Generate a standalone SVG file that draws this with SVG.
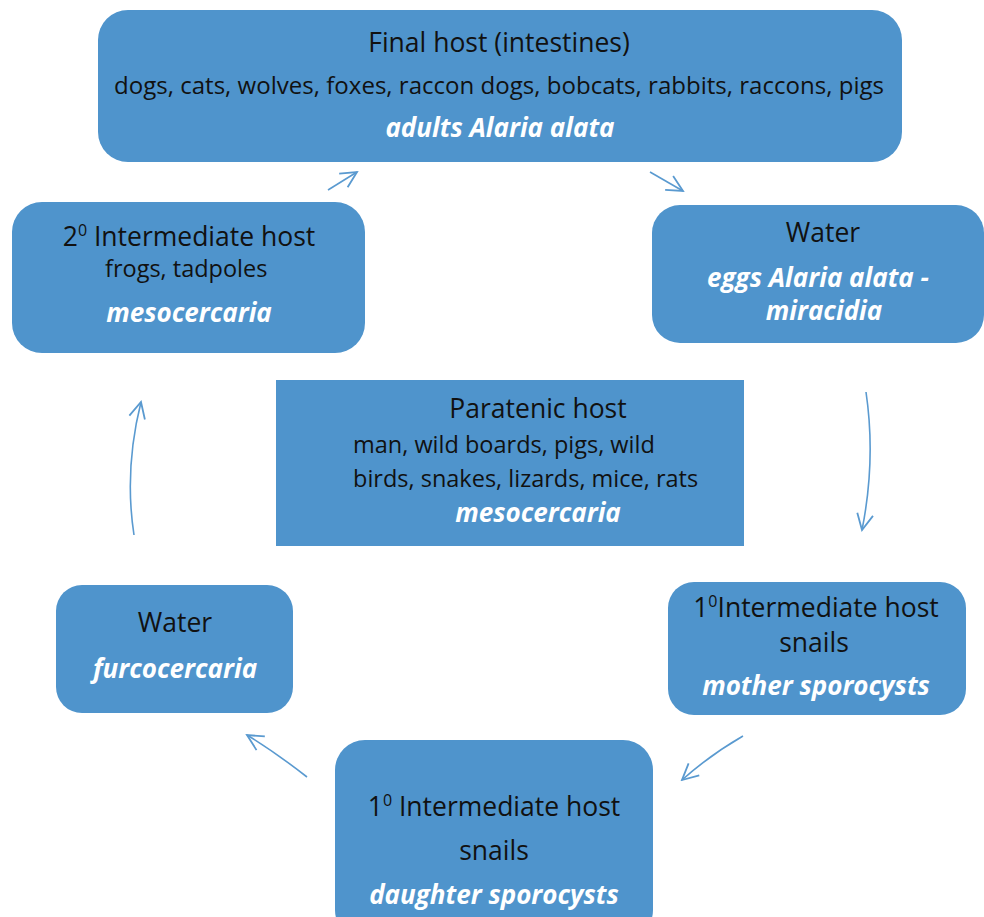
<svg xmlns="http://www.w3.org/2000/svg" width="984" height="917" viewBox="0 0 984 917">
<defs>
<style>
.box{fill:#4F94CC;}
.t{font-family:"Open Sans","Liberation Sans",sans-serif;font-size:26.5px;fill:#111;text-anchor:middle;}
.s{font-family:"Open Sans","Liberation Sans",sans-serif;font-size:23.5px;fill:#111;}
.w{font-family:"Open Sans","Liberation Sans",sans-serif;font-size:26px;fill:#fff;font-weight:bold;font-style:italic;text-anchor:middle;}
.c{fill:none;stroke:#5A9AD0;stroke-width:1.6;marker-end:url(#ah);}
</style>
<marker id="ah" viewBox="0 0 20 20" refX="18" refY="10" markerWidth="20" markerHeight="20" markerUnits="userSpaceOnUse" orient="auto">
<path d="M2,2 L18,10 L2,18" fill="none" stroke="#5A9AD0" stroke-width="1.8"/>
</marker>
</defs>
<rect width="984" height="917" fill="#fff"/>
<g id="final-host">
<rect class="box" x="98" y="10" width="804" height="152" rx="30"/>
<text class="t" x="499" y="52">Final host (intestines)</text>
<text class="s" x="499" y="94" text-anchor="middle" textLength="770" lengthAdjust="spacingAndGlyphs">dogs, cats, wolves, foxes, raccon dogs, bobcats, rabbits, raccons, pigs</text>
<text class="w" x="500" y="137">adults Alaria alata</text>
</g>
<g id="water-eggs">
<rect class="box" x="652" y="205" width="332" height="138" rx="28"/>
<text class="t" x="823" y="242" font-size="28">Water</text>
<text class="w" x="818" y="287">eggs Alaria alata -</text>
<text class="w" x="824" y="320">miracidia</text>
</g>
<g id="second-intermediate">
<rect class="box" x="12" y="202" width="353" height="151" rx="30"/>
<text class="t" x="189" y="246">2<tspan dy="-10" font-size="16">0</tspan><tspan dy="10"> Intermediate host</tspan></text>
<text class="s" x="105" y="277">frogs, tadpoles</text>
<text class="w" x="189" y="322">mesocercaria</text>
</g>
<g id="paratenic">
<rect class="box" x="276" y="380" width="468" height="166"/>
<text class="t" x="538" y="418">Paratenic host</text>
<text class="s" x="353" y="453">man, wild boards, pigs, wild</text>
<text class="s" x="353" y="487">birds, snakes, lizards, mice, rats</text>
<text class="w" x="538" y="522">mesocercaria</text>
</g>
<g id="water-furcocercaria">
<rect class="box" x="56" y="585" width="237" height="128" rx="26"/>
<text class="t" x="175" y="632" font-size="28">Water</text>
<text class="w" x="175" y="678">furcocercaria</text>
</g>
<g id="first-intermediate-mother">
<rect class="box" x="668" y="582" width="298" height="133" rx="26"/>
<text class="t" x="816" y="617">1<tspan dy="-10" font-size="16">0</tspan><tspan dy="10">Intermediate host</tspan></text>
<text class="t" x="814" y="652" font-size="22">snails</text>
<text class="w" x="816" y="695">mother sporocysts</text>
</g>
<g id="first-intermediate-daughter">
<rect class="box" x="335" y="740" width="318" height="200" rx="30"/>
<text class="t" x="494" y="816">1<tspan dy="-10" font-size="16">0</tspan><tspan dy="10"> Intermediate host</tspan></text>
<text class="t" x="494" y="860" font-size="22">snails</text>
<text class="w" x="494" y="904">daughter sporocysts</text>
</g>
<g id="connectors">
<path class="c" d="M328,190 L357,172"/>
<path class="c" d="M650,172 L683,191"/>
<path class="c" d="M866,392 Q876,460 862,530"/>
<path class="c" d="M134,535 Q124,470 141,402"/>
<path class="c" d="M743,736 Q710,755 682,780"/>
<path class="c" d="M307,777 Q275,752 247,735"/>
</g>
</svg>
